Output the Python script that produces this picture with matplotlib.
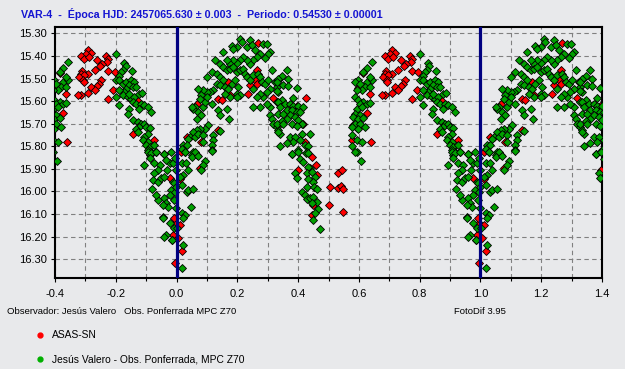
import numpy as np
import matplotlib.pyplot as plt
from matplotlib.lines import Line2D

plt.rcParams['font.family'] = ['Liberation Sans', 'DejaVu Sans']

# phase (0..1) and magnitude
green_phase = [
    0.208, 0.242, 0.214, 0.198, 0.181, 0.187, 0.231, 0.247, 0.258, 0.285, 0.298, 0.307, 0.302, 0.291, 0.274,
    0.264, 0.252, 0.242, 0.231, 0.219, 0.208, 0.198, 0.187, 0.176, 0.165, 0.154, 0.127, 0.143, 0.154, 0.165,
    0.176, 0.187, 0.198, 0.208, 0.219, 0.225, 0.231, 0.242, 0.252, 0.269, 0.274, 0.280, 0.291, 0.302, 0.313,
    0.324, 0.335, 0.329, 0.307, 0.296, 0.285, 0.274, 0.264, 0.329, 0.335, 0.307, 0.296, 0.274, 0.252, 0.307,
    0.313, 0.318, 0.329, 0.335, 0.340, 0.101, 0.115, 0.132, 0.143, 0.154, 0.132, 0.143, 0.159, 0.170, 0.181,
    0.192, 0.203, 0.198, 0.208, 0.176, 0.159, 0.121, 0.110, 0.099, 0.088, 0.071, 0.082, 0.077, 0.060, 0.055,
    0.050, 0.071, 0.082, 0.066, 0.088, 0.093, 0.099, 0.115, 0.137, 0.143, 0.165, 0.174, 0.198, 0.252, 0.105,
    0.093, 0.077, 0.066, 0.055, 0.044, 0.038, 0.060, 0.071, 0.088, 0.088, 0.121, 0.121, 0.143, 0.115, 0.115,
    0.022, 0.033, 0.017, 0.028, 0.055, 0.066, 0.050,
    0.028, 0.060, 0.050, 0.071, 0.115, 0.017, 0.031, 0.094, 0.088, 0.079, 0.039, 0.022, 0.011, 0.017, 0.033,
    0.039, 0.055, 0.046, 0.017, 0.028, 0.022, 0.001, 0.022, 0.017, 0.984,
    0.362, 0.346, 0.335, 0.329, 0.368, 0.351, 0.368, 0.395, 0.329, 0.384, 0.346, 0.335, 0.357, 0.373, 0.384,
    0.401, 0.417, 0.340, 0.362, 0.379, 0.395, 0.406, 0.335, 0.351, 0.373, 0.390, 0.362, 0.346, 0.401, 0.329,
    0.351, 0.379, 0.412, 0.395, 0.335, 0.373, 0.390, 0.412, 0.439, 0.406, 0.384, 0.362, 0.423, 0.434, 0.340,
    0.379, 0.401, 0.428,
    0.642, 0.626, 0.615, 0.598, 0.587, 0.604, 0.626, 0.642, 0.637, 0.620, 0.637, 0.609, 0.593, 0.587, 0.598,
    0.615, 0.604, 0.626, 0.637, 0.593, 0.609, 0.587, 0.604, 0.582, 0.598, 0.615, 0.587, 0.604, 0.620, 0.576,
    0.598, 0.578, 0.593, 0.609, 0.576, 0.593,
    0.379, 0.398, 0.406, 0.417, 0.425, 0.431, 0.439, 0.434, 0.428, 0.445, 0.390, 0.395, 0.456, 0.434, 0.450,
    0.428, 0.453, 0.461, 0.412, 0.423, 0.428, 0.439, 0.450, 0.461, 0.445, 0.467, 0.456, 0.450, 0.472, 0.587,
    0.607,
    0.801, 0.828, 0.832, 0.823, 0.818, 0.854, 0.810, 0.801, 0.812, 0.823, 0.834, 0.850, 0.861, 0.845, 0.834,
    0.856, 0.867, 0.828, 0.812, 0.801, 0.823, 0.839, 0.850, 0.861, 0.845, 0.878, 0.887, 0.856, 0.867, 0.883,
    0.894, 0.905, 0.916, 0.878, 0.845, 0.839, 0.810, 0.856, 0.872, 0.883, 0.894, 0.878, 0.867, 0.872, 0.900,
    0.911, 0.905, 0.894, 0.889, 0.905, 0.900, 0.911, 0.927, 0.933, 0.916, 0.905, 0.911, 0.960,
    0.905, 0.916, 0.933, 0.960, 0.894, 0.911, 0.927, 0.944, 0.938, 0.927, 0.922, 0.938, 0.949, 0.960, 0.968,
    0.977, 0.988, 0.966, 0.988, 0.993, 0.982, 0.977, 0.960, 0.938, 0.933, 0.920, 0.966, 0.971, 0.957, 0.955,
    0.957, 0.977, 0.990, 0.966, 0.960, 0.985, 0.996, 0.998, 0.993, 0.998, 0.998, 0.996, 0.982,
]
green_mag = [
    15.324, 15.328, 15.338, 15.361, 15.358, 15.368, 15.361, 15.353, 15.372, 15.349, 15.349, 15.383, 15.393, 15.408, 15.390,
    15.405, 15.420, 15.434, 15.420, 15.405, 15.420, 15.431, 15.420, 15.434, 15.420, 15.383, 15.420, 15.434, 15.449, 15.464,
    15.456, 15.449, 15.471, 15.464, 15.456, 15.479, 15.493, 15.508, 15.486, 15.479, 15.493, 15.515, 15.523, 15.508, 15.464,
    15.515, 15.508, 15.538, 15.545, 15.560, 15.582, 15.567, 15.582, 15.604, 15.560, 15.626, 15.611, 15.626, 15.626, 15.663,
    15.678, 15.700, 15.715, 15.729, 15.744, 15.493, 15.471, 15.479, 15.493, 15.508, 15.523, 15.530, 15.538, 15.545, 15.523,
    15.508, 15.538, 15.567, 15.574, 15.582, 15.567, 15.552, 15.560, 15.560, 15.552, 15.545, 15.574, 15.589, 15.626, 15.633,
    15.626, 15.648, 15.663, 15.678, 15.626, 15.604, 15.582, 15.611, 15.641, 15.663, 15.633, 15.678, 15.582, 15.545, 15.707,
    15.722, 15.722, 15.729, 15.737, 15.759, 15.766, 15.759, 15.744, 15.751, 15.781, 15.751, 15.773, 15.732, 15.796, 15.818,
    15.796, 15.796, 15.810, 15.825, 15.825, 15.840, 15.840,
    15.824, 15.824, 15.846, 15.843, 15.819, 15.875, 15.872, 15.864, 15.883, 15.905, 15.905, 15.927, 15.934, 15.971, 16.001,
    15.993, 15.990, 16.067, 16.097, 16.104, 16.119, 16.163, 16.237, 16.340, 16.215,
    15.461, 15.490, 15.501, 15.515, 15.501, 15.530, 15.535, 15.540, 15.555, 15.585, 15.594, 15.604, 15.611, 15.614, 15.623,
    15.623, 15.626, 15.626, 15.641, 15.641, 15.648, 15.648, 15.658, 15.656, 15.663, 15.670, 15.678, 15.688, 15.682, 15.700,
    15.700, 15.700, 15.700, 15.712, 15.737, 15.759, 15.759, 15.744, 15.747, 15.774, 15.781, 15.785, 15.796, 15.800, 15.800,
    15.832, 15.818, 15.825,
    15.427, 15.452, 15.471, 15.508, 15.515, 15.523, 15.515, 15.508, 15.493, 15.538, 15.538, 15.552, 15.552, 15.582, 15.597,
    15.604, 15.614, 15.611, 15.608, 15.633, 15.626, 15.656, 15.663, 15.670, 15.678, 15.673, 15.700, 15.703, 15.715, 15.715,
    15.722, 15.751, 15.774, 15.781, 15.800, 15.825,
    15.834, 15.824, 15.858, 15.868, 15.831, 15.828, 15.897, 15.890, 15.920, 15.912, 15.917, 15.942, 15.934, 15.946, 15.956,
    15.979, 15.979, 15.990, 16.001, 16.016, 16.035, 16.030, 16.023, 16.045, 16.052, 16.079, 16.097, 16.126, 16.167, 15.824,
    15.865,
    15.393, 15.431, 15.446, 15.461, 15.471, 15.468, 15.490, 15.505, 15.508, 15.523, 15.515, 15.508, 15.515, 15.530, 15.545,
    15.538, 15.538, 15.560, 15.552, 15.582, 15.574, 15.582, 15.589, 15.582, 15.567, 15.567, 15.564, 15.604, 15.611, 15.614,
    15.619, 15.626, 15.648, 15.633, 15.633, 15.656, 15.619, 15.685, 15.692, 15.700, 15.700, 15.715, 15.722, 15.737, 15.715,
    15.719, 15.744, 15.759, 15.774, 15.781, 15.796, 15.803, 15.796, 15.825, 15.825, 15.818, 15.840, 15.832,
    15.824, 15.831, 15.824, 15.834, 15.883, 15.853, 15.875, 15.883, 15.905, 15.920, 15.949, 15.956, 15.942, 15.934, 15.905,
    15.875, 15.872, 15.861, 15.956, 15.964, 15.993, 16.016, 16.030, 16.038, 16.016, 15.990, 16.052, 16.067, 16.060, 16.111,
    16.119, 16.141, 16.163, 16.193, 16.203, 16.215, 16.001, 16.075, 16.038, 15.905, 15.979, 15.853, 15.824,
]

red_phase = [
    0.269, 0.258, 0.264, 0.170, 0.176, 0.137, 0.148, 0.066, 0.077, 0.236, 0.242, 0.264, 0.318, 0.033, 0.082,
    0.137, 0.013, 0.077, 0.011, 0.995, 0.011, 0.006, 0.017,
    0.425, 0.417, 0.423, 0.395, 0.615, 0.598, 0.637, 0.626, 0.582, 0.593, 0.576, 0.640,
    0.445, 0.458, 0.398, 0.461, 0.450, 0.447, 0.505, 0.532, 0.543, 0.532, 0.541, 0.549, 0.502, 0.549,
    0.708, 0.719, 0.702, 0.686, 0.697, 0.713, 0.737, 0.768, 0.774, 0.770, 0.755, 0.748, 0.730, 0.689, 0.686,
    0.708, 0.697, 0.680, 0.691, 0.694, 0.752, 0.746, 0.737, 0.719, 0.730, 0.708, 0.686, 0.675, 0.774, 0.774,
    0.796, 0.790, 0.856, 0.872, 0.858, 0.927,
    0.977, 0.993, 0.988, 0.996,
]
red_mag = [
    15.343, 15.508, 15.464, 15.515, 15.574, 15.589, 15.597, 15.611, 15.658, 15.567, 15.530, 15.523, 15.585, 15.759, 15.781,
    15.729, 15.825, 15.897, 15.946, 16.141, 16.148, 16.207, 16.262,
    15.585, 15.703, 15.781, 15.623, 15.476, 15.540, 15.567, 15.653, 15.707, 15.719, 15.774, 15.781,
    15.849, 15.883, 15.905, 15.927, 16.060, 16.104, 15.979, 15.917, 15.905, 15.986, 15.976, 15.990, 16.060, 16.089,
    15.375, 15.387, 15.390, 15.402, 15.412, 15.405, 15.420, 15.402, 15.412, 15.427, 15.434, 15.446, 15.461, 15.467, 15.479,
    15.479, 15.486, 15.493, 15.505, 15.515, 15.508, 15.523, 15.535, 15.538, 15.552, 15.564, 15.574, 15.574, 15.468, 15.589,
    15.471, 15.552, 15.515, 15.599, 15.747, 15.774,
    15.942, 16.119, 16.193, 16.318,
]

title = 'VAR-4  -  Época HJD: 2457065.630 ± 0.003  -  Periodo: 0.54530 ± 0.00001'
bg = '#e8e9eb'


def unfold(phase, mag, lo=-0.42, hi=1.42):
    phase = np.asarray(phase)
    mag = np.asarray(mag)
    xs, ys = [], []
    for shift in (-1, 0, 1):
        x = phase + shift
        keep = (x >= lo) & (x <= hi)
        xs.append(x[keep])
        ys.append(mag[keep])
    return np.concatenate(xs), np.concatenate(ys)


fig = plt.figure(figsize=(6.25, 3.69), dpi=100, facecolor=bg)
ax = fig.add_axes((0.088, 0.2466, 0.8752, 0.6802), facecolor=bg)

rx, ry = unfold(red_phase, red_mag)
gx, gy = unfold(green_phase, green_mag)
ax.plot(rx, ry, 'D', ms=3.6, mfc='#ff0000', mec='black', mew=0.6, zorder=3)
ax.plot(gx, gy, 'D', ms=3.6, mfc='#00a000', mec='black', mew=0.6, zorder=4)

for xv in (0.0, 1.0):
    ax.axvline(xv, color='#000080', lw=2.3, zorder=5)

ax.set_xlim(-0.4, 1.4)
ax.set_ylim(16.383, 15.272)
ax.set_xticks(np.arange(-0.4, 1.41, 0.2))
ax.set_xticks(np.arange(-0.3, 1.4, 0.2), minor=True)
ax.set_xticklabels([f'{v:.1f}' for v in np.arange(-0.4, 1.41, 0.2)])
ax.set_yticks(np.arange(15.3, 16.31, 0.1))
ax.set_yticklabels([f'{v:.2f}' for v in np.arange(15.3, 16.31, 0.1)])
ax.tick_params(axis='both', labelsize=8, length=3, width=0.8, pad=3)
ax.tick_params(axis='x', which='both', pad=5)
ax.tick_params(axis='x', which='minor', length=2, width=0.8)
ax.grid(True, which='both', color='#808080', ls=(0, (4, 3)), lw=0.8)
for s in ax.spines.values():
    s.set_color('black')
    s.set_linewidth(1.5)

fig.text(21 / 625, 1 - 14 / 369, title, color='#1414d2', fontsize=7.7, fontweight='bold', va='center', ha='left')
fig.text(7 / 625, 1 - 312 / 369, 'Observador: Jesús Valero   Obs. Ponferrada MPC Z70', fontsize=6.8, va='center')
fig.text(506 / 625, 1 - 312 / 369, 'FotoDif 3.95', fontsize=6.8, va='center', ha='right')

handles = [Line2D([], [], ls='none', marker='o', ms=3.5, mfc='#ff0000', mec='#ff0000'),
           Line2D([], [], ls='none', marker='o', ms=3.5, mfc='#00b000', mec='#00b000')]
fig.legend(handles, ['ASAS-SN', 'Jesús Valero - Obs. Ponferrada, MPC Z70'], loc='upper left',
           bbox_to_anchor=(25 / 625, 1 - 321 / 369), frameon=False, fontsize=7.4,
           handletextpad=0.5, labelspacing=1.35, handlelength=1.2)

fig.savefig('out.png', dpi=100, facecolor=bg)
